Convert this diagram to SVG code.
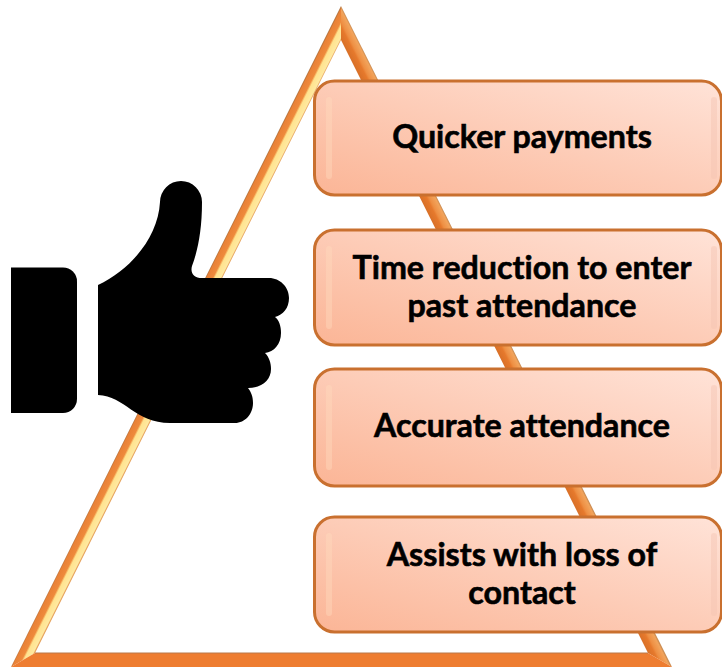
<svg xmlns="http://www.w3.org/2000/svg" width="722" height="667" viewBox="0 0 722 667">
<style>
.box{fill:url(#boxFill);stroke:#C9702F;stroke-width:3}
.shineL{fill:none;stroke:#FFD9BC;stroke-width:6;stroke-linecap:round;opacity:.45}
.shineR{fill:none;stroke:#F3C4B2;stroke-width:6;stroke-linecap:round;opacity:.45}
.lbl{font-family:"Lato","Liberation Sans",sans-serif;font-weight:700;font-size:32.200px;fill:#000;stroke:#000;stroke-width:.6;text-anchor:middle;font-variant-ligatures:none}
</style>
<defs>
<linearGradient id="boxFill" gradientUnits="objectBoundingBox" x1="0" y1="1" x2="1" y2="0">
<stop offset="0" stop-color="#FBB596"/><stop offset="1" stop-color="#FFE3D8"/>
</linearGradient>
<linearGradient id="leftBand" gradientUnits="userSpaceOnUse" x1="179" y1="330" x2="192.600" y2="336.800">
<stop offset="0" stop-color="#A8703E"/><stop offset=".1" stop-color="#E98137"/><stop offset=".45" stop-color="#EE8A3C"/><stop offset=".58" stop-color="#FFE38F"/><stop offset=".92" stop-color="#FFE9A0"/><stop offset="1" stop-color="#E39A52"/>
</linearGradient>
<linearGradient id="rightBand" gradientUnits="userSpaceOnUse" x1="503" y1="330" x2="489.400" y2="336.800">
<stop offset="0" stop-color="#C98A50"/><stop offset=".1" stop-color="#F2A45C"/><stop offset=".45" stop-color="#EE8F43"/><stop offset=".6" stop-color="#E6792C"/><stop offset="1" stop-color="#D87028"/>
</linearGradient>
</defs>
<g id="triangle">
<polygon points="341,6 341,40 35,653 23,660 11,667" fill="url(#leftBand)"/>
<polygon points="341,6 672,667 648,653 341,40" fill="url(#rightBand)"/>
<polygon points="11,667 35,653 648,653 672,667" fill="#EE7D31"/>
<line x1="35" y1="653" x2="648" y2="653" stroke="#B9784A" stroke-width="1"/>
</g>
<g id="thumb" fill="#000">
<path d="M11 267.500H63a14 14 0 0 1 14 14V399a14 14 0 0 1-14 14H11Z"/>
<path d="M98 285C130 270 158 238 160 202A21 21 0 0 1 202 202C202 230 198 250 192 266C190 273 194 278 202 278H269C280 278 289 287 289 298C289 308 283 315 275 317C279 320 281 326 281 333C281 344 274 352 265 353C269 357 271 363 271 369C271 380 262 388 248 388C251 392 253 396 253 403C253 414 245 423 235 423H170C135 423 125 396 98 395Z"/>
</g>
<g id="node1">
<rect class="box" x="314.500" y="81" width="407" height="114" rx="20"/>
<path class="shineL" d="M329 100V176"/>
<path class="shineR" d="M714 100V176"/>
<text class="lbl" x="522" y="148">Quicker payments</text>
</g>
<g id="node2">
<rect class="box" x="314.500" y="230" width="407" height="115" rx="20"/>
<path class="shineL" d="M329 249V326"/>
<path class="shineR" d="M714 249V326"/>
<text class="lbl" x="522" y="279">Time reduction to enter</text>
<text class="lbl" x="522" y="317">past attendance</text>
</g>
<g id="node3">
<rect class="box" x="314.500" y="369" width="407" height="117" rx="20"/>
<path class="shineL" d="M329 388V467"/>
<path class="shineR" d="M714 388V467"/>
<text class="lbl" x="522" y="437">Accurate attendance</text>
</g>
<g id="node4">
<rect class="box" x="314.500" y="517" width="407" height="115" rx="20"/>
<path class="shineL" d="M329 536V613"/>
<path class="shineR" d="M714 536V613"/>
<text class="lbl" x="522" y="566">Assists with loss of</text>
<text class="lbl" x="522" y="604">contact</text>
</g>
</svg>
